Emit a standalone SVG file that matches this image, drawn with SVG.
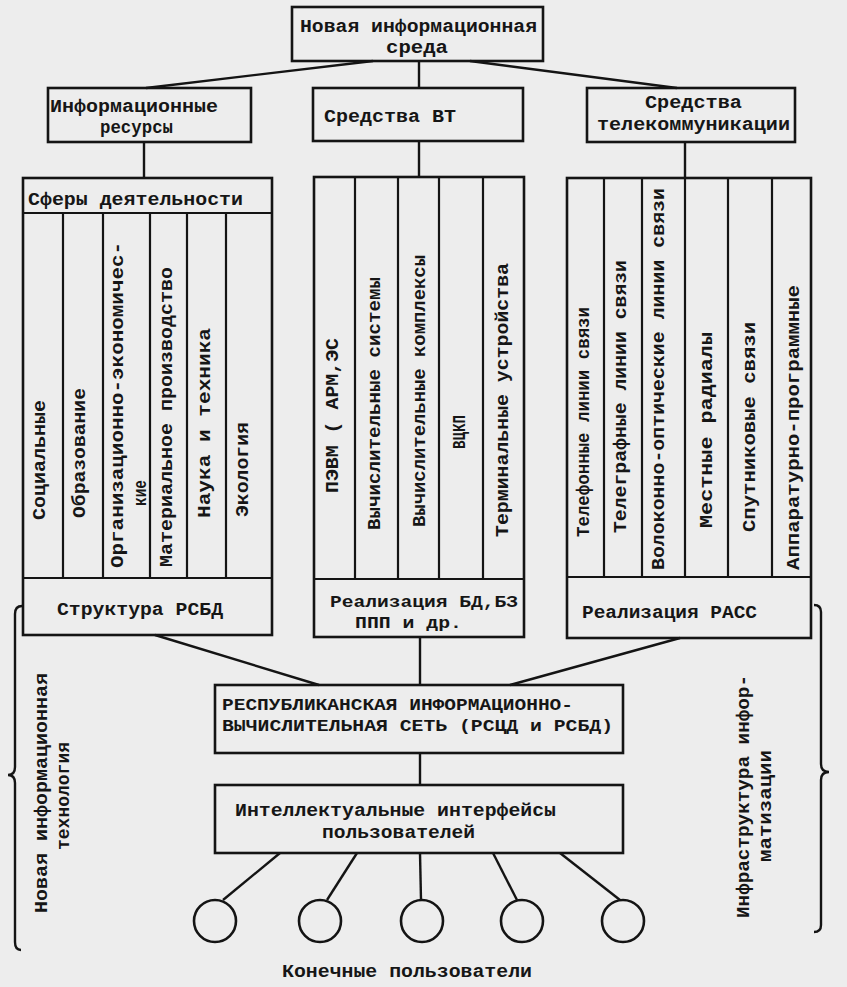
<svg xmlns="http://www.w3.org/2000/svg" width="847" height="987" viewBox="0 0 847 987">
<style>
.bx{fill:none;stroke:#141414;stroke-width:2.6}
.ln{fill:none;stroke:#141414;stroke-width:2.4}
.dv{stroke:#141414;stroke-width:2.2}
.v{dominant-baseline:central}
</style>
<rect width="847" height="987" fill="#ededed"/>

<g id="connectors" class="ln">
<line x1="373" y1="61" x2="146" y2="88"/>
<line x1="419" y1="61" x2="419" y2="88"/>
<line x1="470" y1="61" x2="677" y2="88"/>
<line x1="144" y1="142" x2="144" y2="178"/>
<line x1="419" y1="141" x2="419" y2="177"/>
<line x1="685" y1="142" x2="685" y2="178"/>
<line x1="155" y1="635" x2="319" y2="685"/>
<line x1="420" y1="637" x2="420" y2="685"/>
<line x1="680" y1="638" x2="510" y2="685"/>
<line x1="420" y1="753" x2="420" y2="785"/>
<line x1="280" y1="853" x2="223" y2="900"/>
<line x1="357" y1="853" x2="327" y2="900"/>
<line x1="420" y1="853" x2="421" y2="900"/>
<line x1="493" y1="853" x2="517" y2="900"/>
<line x1="560" y1="853" x2="620" y2="900"/>
</g>

<g font-family="'Liberation Mono', 'Courier New', monospace" font-size="19" font-weight="bold" fill="#161616" lengthAdjust="spacingAndGlyphs">

<g id="n-sreda">
<rect class="bx" x="292" y="7" width="251" height="54"/>
<text x="300" y="32" textLength="237" lengthAdjust="spacingAndGlyphs">Новая информационная</text>
<text x="386" y="53" textLength="62" lengthAdjust="spacingAndGlyphs">среда</text>
</g>

<g id="n-resursy">
<rect class="bx" x="48" y="88" width="203" height="54"/>
<text x="50" y="112" textLength="168" lengthAdjust="spacingAndGlyphs">Информационные</text>
<text x="100" y="133" textLength="73" lengthAdjust="spacingAndGlyphs">ресурсы</text>
</g>

<g id="n-vt">
<rect class="bx" x="313" y="88" width="210" height="53"/>
<text x="324" y="122" textLength="132" lengthAdjust="spacingAndGlyphs">Средства ВТ</text>
</g>

<g id="n-telecom">
<rect class="bx" x="587" y="88" width="208" height="54"/>
<text x="645" y="108" textLength="97" lengthAdjust="spacingAndGlyphs">Средства</text>
<text x="597" y="130" textLength="193" lengthAdjust="spacingAndGlyphs">телекоммуникации</text>
</g>

<g id="n-sfery">
<rect class="bx" x="23" y="178" width="249" height="457"/>
<line class="dv" x1="23" y1="213" x2="272" y2="213"/>
<line class="dv" x1="23" y1="578" x2="272" y2="578"/>
<line class="dv" x1="63" y1="213" x2="63" y2="578"/>
<line class="dv" x1="103" y1="213" x2="103" y2="578"/>
<line class="dv" x1="150" y1="213" x2="150" y2="578"/>
<line class="dv" x1="187" y1="213" x2="187" y2="578"/>
<line class="dv" x1="226" y1="213" x2="226" y2="578"/>
<text x="28" y="205" textLength="215" lengthAdjust="spacingAndGlyphs">Сферы деятельности</text>
<text class="v" transform="translate(40 520) rotate(-90)" textLength="120" lengthAdjust="spacingAndGlyphs">Социальные</text>
<text class="v" transform="translate(80 518) rotate(-90)" textLength="130" lengthAdjust="spacingAndGlyphs">Образование</text>
<text class="v" transform="translate(118 568) rotate(-90)" textLength="326" lengthAdjust="spacingAndGlyphs">Организационно-экономичес-</text>
<text class="v" transform="translate(141 506) rotate(-90)" textLength="26" lengthAdjust="spacingAndGlyphs">кие</text>
<text class="v" transform="translate(167 567) rotate(-90)" textLength="300" lengthAdjust="spacingAndGlyphs">Материальное производство</text>
<text class="v" transform="translate(205 518) rotate(-90)" textLength="190" lengthAdjust="spacingAndGlyphs">Наука и техника</text>
<text class="v" transform="translate(243 517) rotate(-90)" textLength="95" lengthAdjust="spacingAndGlyphs">Экология</text>
<text x="57" y="615" textLength="166" lengthAdjust="spacingAndGlyphs">Структура РСБД</text>
</g>

<g id="n-vt-block">
<rect class="bx" x="314" y="177" width="210" height="460"/>
<line class="dv" x1="314" y1="579" x2="524" y2="579"/>
<line class="dv" x1="355" y1="177" x2="355" y2="579"/>
<line class="dv" x1="398" y1="177" x2="398" y2="579"/>
<line class="dv" x1="439" y1="177" x2="439" y2="579"/>
<line class="dv" x1="483" y1="177" x2="483" y2="579"/>
<text class="v" transform="translate(333 493) rotate(-90)" textLength="155" lengthAdjust="spacingAndGlyphs">ПЭВМ ( АРМ,ЭС</text>
<text class="v" transform="translate(375 530) rotate(-90)" textLength="253" lengthAdjust="spacingAndGlyphs">Вычислительные системы</text>
<text class="v" transform="translate(420 527) rotate(-90)" textLength="272" lengthAdjust="spacingAndGlyphs">Вычислительные комплексы</text>
<text class="v" transform="translate(460 449) rotate(-90)" textLength="34" lengthAdjust="spacingAndGlyphs">ВЦКП</text>
<text class="v" transform="translate(503 537) rotate(-90)" textLength="274" lengthAdjust="spacingAndGlyphs">Терминальные устройства</text>
<text x="330" y="607" font-size="16" textLength="188" lengthAdjust="spacingAndGlyphs">Реализация БД,БЗ</text>
<text x="355" y="628" font-size="16" textLength="107" lengthAdjust="spacingAndGlyphs">ППП и др.</text>
</g>

<g id="n-telecom-block">
<rect class="bx" x="567" y="178" width="244" height="460"/>
<line class="dv" x1="567" y1="577" x2="811" y2="577"/>
<line class="dv" x1="604" y1="178" x2="604" y2="577"/>
<line class="dv" x1="642" y1="178" x2="642" y2="577"/>
<line class="dv" x1="685" y1="178" x2="685" y2="577"/>
<line class="dv" x1="728" y1="178" x2="728" y2="577"/>
<line class="dv" x1="772" y1="178" x2="772" y2="577"/>
<text class="v" transform="translate(584 537) rotate(-90)" textLength="230" lengthAdjust="spacingAndGlyphs">Телефонные линии связи</text>
<text class="v" transform="translate(621 533) rotate(-90)" textLength="273" lengthAdjust="spacingAndGlyphs">Телеграфные линии связи</text>
<text class="v" transform="translate(659 570) rotate(-90)" textLength="382" lengthAdjust="spacingAndGlyphs">Волоконно-оптические линии связи</text>
<text class="v" transform="translate(707 528) rotate(-90)" textLength="196" lengthAdjust="spacingAndGlyphs">Местные радиалы</text>
<text class="v" transform="translate(750 532) rotate(-90)" textLength="210" lengthAdjust="spacingAndGlyphs">Спутниковые связи</text>
<text class="v" transform="translate(794 570) rotate(-90)" textLength="285" lengthAdjust="spacingAndGlyphs">Аппаратурно-программные</text>
<text x="582" y="618" textLength="175" lengthAdjust="spacingAndGlyphs">Реализация РАСС</text>
</g>

<g id="n-rivs">
<rect class="bx" x="215" y="685" width="408" height="68"/>
<text x="222" y="710" font-size="16" textLength="351" lengthAdjust="spacingAndGlyphs">РЕСПУБЛИКАНСКАЯ ИНФОРМАЦИОННО-</text>
<text x="222" y="731" font-size="16" textLength="391" lengthAdjust="spacingAndGlyphs">ВЫЧИСЛИТЕЛЬНАЯ СЕТЬ (РСЦД и РСБД)</text>
</g>

<g id="n-interfaces">
<rect class="bx" x="215" y="785" width="408" height="68"/>
<text x="235" y="816" textLength="321" lengthAdjust="spacingAndGlyphs">Интеллектуальные интерфейсы</text>
<text x="322" y="838" textLength="153" lengthAdjust="spacingAndGlyphs">пользователей</text>
</g>

<g id="n-users" class="bx">
<circle cx="215" cy="921" r="21"/>
<circle cx="320" cy="921" r="21"/>
<circle cx="422" cy="921" r="21"/>
<circle cx="522" cy="921" r="21"/>
<circle cx="623" cy="921" r="21"/>
</g>
<g id="n-users-label">
<text x="282" y="977" textLength="250" lengthAdjust="spacingAndGlyphs">Конечные пользователи</text>
</g>

<g id="n-left-brace">
<path class="ln" d="M22 606 Q15 606 15 614 L15 767 Q15 775 8 775 Q15 775 15 783 L15 942 Q15 950 21 950"/>
<text class="v" transform="translate(42 913) rotate(-90)" textLength="240" lengthAdjust="spacingAndGlyphs">Новая информационная</text>
<text class="v" transform="translate(64 850) rotate(-90)" textLength="108" lengthAdjust="spacingAndGlyphs">технология</text>
</g>

<g id="n-right-brace">
<path class="ln" d="M814 605 Q821 605 821 612 L821 764 Q821 772 829 772 Q821 772 821 780 L821 925 Q821 932 814 932"/>
<text class="v" transform="translate(744 918) rotate(-90)" textLength="243" lengthAdjust="spacingAndGlyphs">Инфраструктура инфор-</text>
<text class="v" transform="translate(766 862) rotate(-90)" textLength="112" lengthAdjust="spacingAndGlyphs">матизации</text>
</g>
</g>
</svg>
